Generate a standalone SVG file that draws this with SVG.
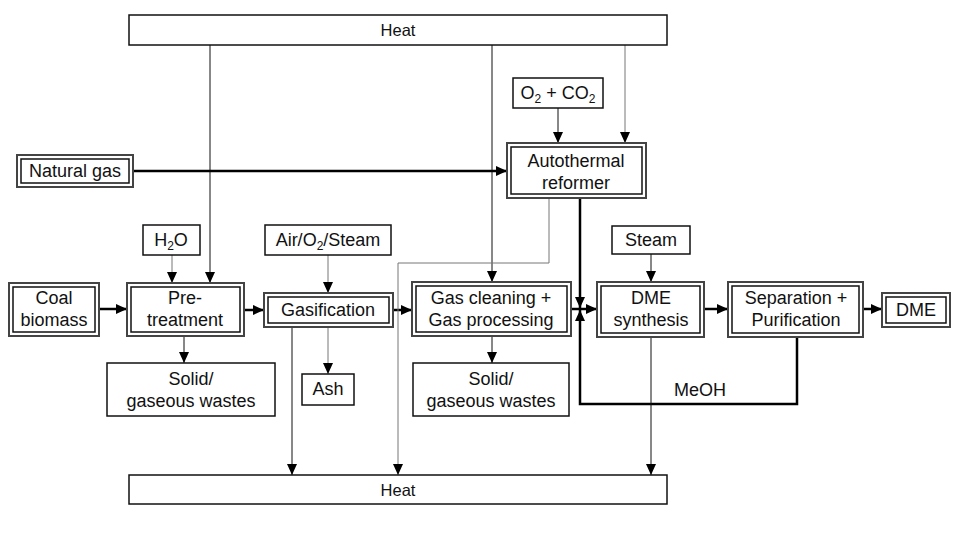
<svg xmlns="http://www.w3.org/2000/svg" width="960" height="540" viewBox="0 0 960 540">
<defs>
<marker id="ah" markerUnits="userSpaceOnUse" markerWidth="12" markerHeight="10" refX="11" refY="5" orient="auto">
<path d="M0,0 L11,5 L0,10 z" fill="#000"/>
</marker>
<style>
text{font-family:"Liberation Sans",Arial,sans-serif;font-size:18px;fill:#111;text-anchor:middle}
.heat{font-size:16.5px}
.sub{font-size:12px}
.box{fill:#fff;stroke:#111;stroke-width:1.5}
.outer{fill:#fff;stroke:#444;stroke-width:2}
.inner{fill:none;stroke:#111;stroke-width:1.5}
.thin{fill:none;stroke:#111;stroke-width:1}
.gray{fill:none;stroke:#777;stroke-width:1}
.thick{fill:none;stroke:#000;stroke-width:2.5}
</style>
</defs>
<rect width="960" height="540" fill="#fff"/>

<g id="connectors">
<path class="thin" d="M210,45 V283" marker-end="url(#ah)"/>
<path class="thin" d="M492,45 V282" marker-end="url(#ah)"/>
<path class="gray" d="M625,45 V143" marker-end="url(#ah)"/>
<path class="gray" d="M172,255 V283" marker-end="url(#ah)"/>
<path class="gray" d="M328,255 V293" marker-end="url(#ah)"/>
<path class="thin" d="M558,108 V143" marker-end="url(#ah)"/>
<path class="thin" d="M651,254 V282" marker-end="url(#ah)"/>
<path class="thick" d="M133,171 H507" marker-end="url(#ah)"/>
<path class="thick" d="M99,309 H127" marker-end="url(#ah)"/>
<path class="thick" d="M244,310 H264" marker-end="url(#ah)"/>
<path class="thick" d="M393,310 H412" marker-end="url(#ah)"/>
<path class="thick" d="M571,309 H597" marker-end="url(#ah)"/>
<path class="thick" d="M704,309 H728" marker-end="url(#ah)"/>
<path class="thick" d="M863,309 H882" marker-end="url(#ah)"/>
<path class="thick" d="M580,198 V308" marker-end="url(#ah)"/>
<path class="thick" d="M797,337 V404 H580 V310" marker-end="url(#ah)"/>
<path class="thin" d="M184,336 V363" marker-end="url(#ah)"/>
<path class="gray" d="M328,327 V374" marker-end="url(#ah)"/>
<path class="thin" d="M492,336 V363" marker-end="url(#ah)"/>
<path class="thin" d="M292,327 V475" marker-end="url(#ah)"/>
<path class="gray" d="M549,198 V263 H398 V475" marker-end="url(#ah)"/>
<path class="thin" d="M651,337 V475" marker-end="url(#ah)"/>
</g>

<g id="heat-top">
<rect class="box" x="129" y="15" width="538" height="30"/>
<text class="heat" x="398" y="36">Heat</text>
</g>
<g id="heat-bottom">
<rect class="box" x="129" y="475" width="538" height="29"/>
<text class="heat" x="398" y="496">Heat</text>
</g>

<g id="natural-gas">
<rect class="outer" x="17" y="155" width="116" height="32"/>
<rect class="inner" x="21" y="159" width="108" height="24"/>
<text x="75" y="177">Natural gas</text>
</g>

<g id="o2co2">
<rect class="box" x="513" y="78" width="90" height="30"/>
<text x="558" y="99">O<tspan class="sub" dy="4">2</tspan><tspan dy="-4"> + CO</tspan><tspan class="sub" dy="4">2</tspan></text>
</g>

<g id="reformer">
<rect class="outer" x="507" y="143" width="139" height="55"/>
<rect class="inner" x="511" y="147" width="131" height="47"/>
<text x="576" y="167">Autothermal</text>
<text x="576" y="189">reformer</text>
</g>

<g id="h2o">
<rect class="box" x="143" y="225" width="57" height="30"/>
<text x="171" y="246">H<tspan class="sub" dy="4">2</tspan><tspan dy="-4">O</tspan></text>
</g>

<g id="air">
<rect class="box" x="265" y="225" width="126" height="30"/>
<text x="328" y="246">Air/O<tspan class="sub" dy="4">2</tspan><tspan dy="-4">/Steam</tspan></text>
</g>

<g id="steam">
<rect class="box" x="612" y="226" width="78" height="28"/>
<text x="651" y="246">Steam</text>
</g>

<g id="coal">
<rect class="outer" x="9" y="283" width="90" height="53"/>
<rect class="inner" x="13" y="287" width="82" height="45"/>
<text x="54" y="304">Coal</text>
<text x="54" y="326">biomass</text>
</g>

<g id="pretreatment">
<rect class="outer" x="127" y="283" width="117" height="53"/>
<rect class="inner" x="131" y="287" width="109" height="45"/>
<text x="185" y="304">Pre-</text>
<text x="185" y="326">treatment</text>
</g>

<g id="gasification">
<rect class="outer" x="264" y="293" width="129" height="34"/>
<rect class="inner" x="268" y="297" width="121" height="26"/>
<text x="328" y="316">Gasification</text>
</g>

<g id="gas-cleaning">
<rect class="outer" x="412" y="282" width="159" height="54"/>
<rect class="inner" x="416" y="286" width="151" height="46"/>
<text x="491" y="304">Gas cleaning +</text>
<text x="491" y="326">Gas processing</text>
</g>

<g id="dme-synthesis">
<rect class="outer" x="597" y="282" width="107" height="55"/>
<rect class="inner" x="601" y="286" width="99" height="47"/>
<text x="651" y="304">DME</text>
<text x="651" y="326">synthesis</text>
</g>

<g id="separation">
<rect class="outer" x="728" y="282" width="135" height="55"/>
<rect class="inner" x="732" y="286" width="127" height="47"/>
<text x="796" y="304">Separation +</text>
<text x="796" y="326">Purification</text>
</g>

<g id="dme">
<rect class="outer" x="882" y="293" width="68" height="34"/>
<rect class="inner" x="886" y="297" width="60" height="26"/>
<text x="916" y="316">DME</text>
</g>

<g id="wastes1">
<rect class="box" x="107" y="363" width="168" height="53"/>
<text x="191" y="385">Solid/</text>
<text x="191" y="407">gaseous wastes</text>
</g>

<g id="ash">
<rect class="box" x="302" y="374" width="52" height="31"/>
<text x="328" y="395">Ash</text>
</g>

<g id="wastes2">
<rect class="box" x="413" y="363" width="156" height="53"/>
<text x="491" y="385">Solid/</text>
<text x="491" y="407">gaseous wastes</text>
</g>

<text x="700" y="396">MeOH</text>
</svg>
